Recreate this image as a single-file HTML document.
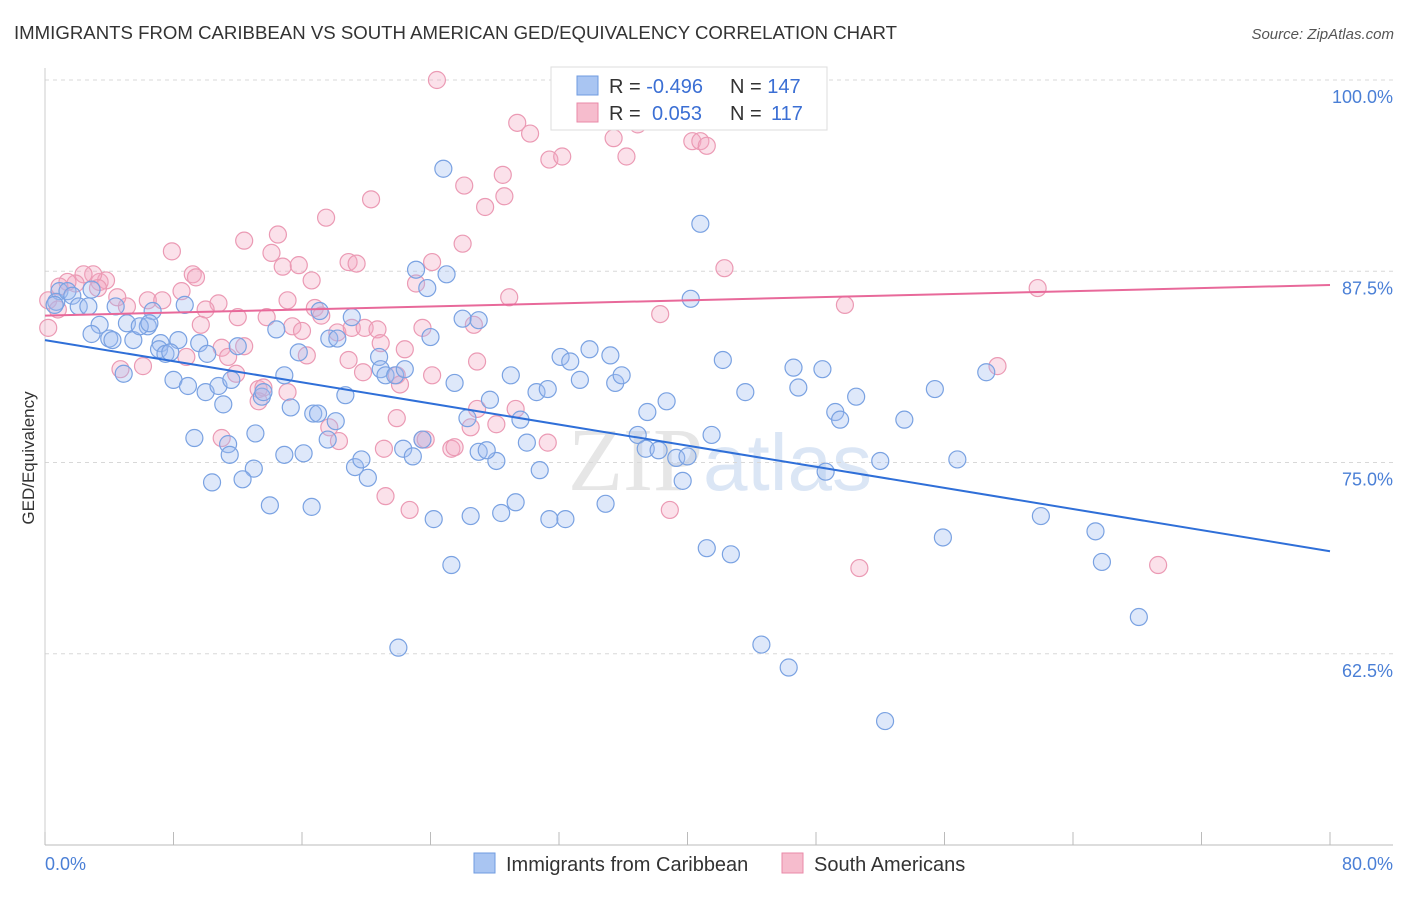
<!DOCTYPE html>
<html><head><meta charset="utf-8">
<style>
html,body{margin:0;padding:0;background:#fff;}
body{width:1406px;height:892px;overflow:hidden;font-family:"Liberation Sans",sans-serif;}
</style></head>
<body>
<svg id="chart" width="1406" height="892" xmlns="http://www.w3.org/2000/svg" font-family="Liberation Sans, sans-serif">
<text x="14" y="39" font-size="18.6" fill="#333" textLength="883" lengthAdjust="spacingAndGlyphs">IMMIGRANTS FROM CARIBBEAN VS SOUTH AMERICAN GED/EQUIVALENCY CORRELATION CHART</text>
<text x="1394" y="39" font-size="15" fill="#555" font-style="italic" text-anchor="end">Source: ZipAtlas.com</text>
<text x="720" y="490" font-size="90" fill="#e6e6e6" text-anchor="middle" font-family="Liberation Serif, serif">ZIP<tspan fill="#dbe6f5" font-family="Liberation Sans, sans-serif" font-size="80">atlas</tspan></text>
<text transform="translate(34,458) rotate(-90)" font-size="17" fill="#333" text-anchor="middle">GED/Equivalency</text>
<g id="grid"></g>
<g id="pts"></g>
<g id="trends"></g>
<g>
<rect x="551" y="67" width="276" height="63" fill="#fff" stroke="#ddd"/>
<rect x="577" y="76" width="21" height="19" fill="#a9c5f2" stroke="#6f9be0"/>
<text x="609" y="93" font-size="20" fill="#333">R = <tspan fill="#3b6fd4">-0.496</tspan><tspan x="730">N = </tspan><tspan fill="#3b6fd4">147</tspan></text>
<rect x="577" y="103" width="21" height="19" fill="#f6bccd" stroke="#e98aa8"/>
<text x="609" y="120" font-size="20" fill="#333">R = <tspan x="652" fill="#3b6fd4">0.053</tspan><tspan x="730">N = </tspan><tspan x="771" fill="#3b6fd4">117</tspan></text>
</g>
<g>
<rect x="474" y="853" width="21" height="20" fill="#a9c5f2" stroke="#6f9be0"/>
<text x="506" y="871" font-size="20" fill="#333">Immigrants from Caribbean</text>
</g>
<g>
<rect x="782" y="853" width="21" height="20" fill="#f6bccd" stroke="#e98aa8"/>
<text x="814" y="871" font-size="20" fill="#333">South Americans</text>
</g>
</svg>
<script>
const xTicks=[0,10,20,30,40,50,60,70,80];
const yTicks=[100,87.5,75,62.5];
const yTickLabels=["100.0%","87.5%","75.0%","62.5%"];
const xEndLabels=["0.0%","80.0%"];
const blueX=[24.8,40.8,23.1,25.0,23.8,40.2,26.0,27.0,24.0,14.4,17.1,19.1,17.7,18.2,8.7,6.7,6.4,5.1,3.4,2.9,4.0,5.5,7.2,8.3,7.1,7.5,9.6,12.0,10.1,4.9,8.0,8.9,10.0,10.8,11.6,11.1,13.5,13.6,14.9,15.8,15.3,16.7,17.0,18.7,20.8,20.9,21.2,21.8,22.4,25.5,29.0,27.7,26.3,29.6,30.6,31.3,32.1,32.7,33.3,33.9,35.2,35.5,35.9,37.5,38.7,36.9,37.4,38.2,39.3,40.0,39.7,41.5,42.2,43.6,46.6,46.9,48.4,49.2,49.5,50.5,53.5,55.4,58.6,48.6,52.0,56.8,62.0,65.4,65.8,68.1,55.9,41.2,42.7,44.6,46.3,52.3,22.0,25.3,24.2,26.5,28.4,29.3,31.4,32.4,34.9,30.0,30.8,28.1,27.0,27.5,22.3,22.9,23.5,20.1,19.3,19.7,18.1,17.6,16.1,14.9,13.1,13.0,12.3,11.4,10.4,9.3,11.5,14.0,16.6,2.9,0.9,0.7,1.4,1.7,2.1,2.7,4.4,0.6,5.9,6.5,7.8,4.2];
const blueY=[94.2,90.6,87.6,87.3,86.4,85.7,84.4,84.3,83.2,83.7,84.9,84.5,83.1,83.1,85.3,84.9,83.9,84.1,84.0,83.4,83.1,83.0,82.8,83.0,82.4,82.1,82.8,82.6,82.1,80.8,80.4,80.0,79.6,80.0,80.4,78.8,79.3,79.6,80.7,82.2,78.6,78.2,78.2,79.4,81.9,81.1,80.7,80.7,81.1,80.2,80.7,79.1,77.9,77.8,79.6,79.8,81.9,81.6,80.4,82.4,82.0,80.2,80.7,78.3,79.0,76.8,75.9,75.8,75.3,75.4,73.8,76.8,81.7,79.6,81.2,79.9,81.1,78.3,77.8,79.3,77.8,79.8,80.9,74.4,75.1,75.2,71.5,70.5,68.5,64.9,70.1,69.4,69.0,63.1,61.6,58.1,62.9,68.3,71.3,71.5,71.7,72.4,71.3,71.3,72.3,76.3,74.5,75.1,75.7,75.8,75.9,75.4,76.5,74.0,74.7,75.2,77.7,76.5,75.6,75.5,76.9,74.6,73.9,76.2,73.7,76.6,75.5,72.2,72.1,86.3,86.2,85.5,86.2,85.9,85.2,85.2,85.2,85.3,83.9,84.1,82.2,83.0];
const pinkX=[24.4,32.4,39.4,29.4,30.2,31.4,32.2,35.4,36.9,40.3,40.8,41.2,36.2,28.5,28.6,27.4,26.1,20.3,17.5,26.0,24.1,18.9,19.4,14.5,12.4,14.1,14.8,15.8,16.6,7.9,9.2,9.4,8.5,6.4,5.1,4.5,3.4,3.8,3.0,2.4,1.9,1.4,0.9,0.2,0.2,0.8,3.3,7.3,10.8,10.0,12.0,15.1,16.8,17.2,9.7,13.8,15.4,16.0,18.2,19.1,19.9,20.7,20.9,22.4,23.1,23.5,26.7,28.9,38.3,42.3,49.8,61.8,59.3,8.8,11.0,11.4,12.4,11.9,13.3,13.6,15.1,16.3,18.9,19.8,21.9,22.1,24.1,26.9,29.3,21.9,21.1,21.2,22.7,23.5,23.7,25.3,26.5,26.9,28.1,31.3,25.5,38.9,50.7,69.3,6.1,4.7,11.0,17.7,18.3,13.3];
const pinkY=[100.0,100.0,99.8,97.2,96.5,94.8,95.0,96.2,97.1,96.0,96.0,95.7,95.0,93.8,92.4,91.7,93.1,92.2,91.0,89.3,88.1,88.1,88.0,89.9,89.5,88.7,87.8,87.9,86.9,88.8,87.3,87.1,86.2,85.6,85.2,85.8,86.8,86.9,87.3,87.3,86.7,86.8,86.5,85.6,83.8,85.0,86.4,85.6,85.4,85.0,84.5,85.6,85.1,84.6,84.0,84.5,83.9,83.6,83.5,83.8,83.8,83.7,82.8,82.4,86.7,83.8,84.0,85.8,84.7,87.7,85.3,86.4,81.3,81.9,82.5,81.9,82.6,80.8,79.8,79.9,79.6,82.0,81.7,80.9,80.7,80.1,80.7,81.6,78.5,77.9,75.9,72.8,71.9,76.5,76.5,75.9,77.3,78.5,77.5,76.3,76.0,71.9,68.1,68.3,81.3,81.1,76.6,77.3,76.4,79.0];
const blueTrend=[83.0,69.2];
const pinkTrend=[84.6,86.6];

const NS="http://www.w3.org/2000/svg";
const X0=45,X1=1330,Y100=80,Y50=845;
function sx(v){return X0+(v-0)/(80-0)*(X1-X0);}
function sy(v){return Y100+(100-v)/(100-50)*(Y50-Y100);}
function mk(tag,attrs,parent){const e=document.createElementNS(NS,tag);for(const k in attrs)e.setAttribute(k,attrs[k]);parent.appendChild(e);return e;}
const grid=document.getElementById('grid');
yTicks.forEach((t,i)=>{
  const l=mk('line',{x1:X0,x2:1393,y1:sy(t),y2:sy(t),stroke:'#d8d8d8','stroke-dasharray':'4,4'},grid);
  
  
  const tx=mk('text',{x:1393,y:sy(t)+23,'font-size':18,fill:'#4a7fd6','text-anchor':'end'},grid);
  tx.textContent=yTickLabels[i];
  
  
});
const ax=mk('line',{x1:X0,x2:1393,y1:Y50,y2:Y50,stroke:'#bbb'},grid);


const ay=mk('line',{x1:X0,x2:X0,y1:68,y2:Y50,stroke:'#ccc'},grid);


for(let v=0;v<=80;v+=80/10){
  const t=mk('line',{x1:sx(v),x2:sx(v),y1:Y50,y2:Y50-13,stroke:'#bbb'},grid);
  
  
}
const xl0=mk('text',{x:X0,y:870,'font-size':18,fill:'#4a7fd6'},grid);xl0.textContent=xEndLabels[0];


const xl1=mk('text',{x:1393,y:870,'font-size':18,fill:'#4a7fd6','text-anchor':'end'},grid);xl1.textContent=xEndLabels[1];


const pts=document.getElementById('pts');
pinkX.forEach((x,i)=>{
  const c=mk('circle',{cx:sx(x),cy:sy(pinkY[i]),r:8.5,fill:'rgba(244,170,195,0.35)',stroke:'#eb9ab4','stroke-width':1.2},pts);
  
  
});
blueX.forEach((x,i)=>{
  const c=mk('circle',{cx:sx(x),cy:sy(blueY[i]),r:8.5,fill:'rgba(160,190,240,0.35)',stroke:'#7aa2e2','stroke-width':1.2},pts);
  
  
});
const tr=document.getElementById('trends');
const bt=mk('line',{x1:sx(0),y1:sy(blueTrend[0]),x2:sx(80),y2:sy(blueTrend[1]),stroke:'#2f6fd8','stroke-width':2},tr);


const pt=mk('line',{x1:sx(0),y1:sy(pinkTrend[0]),x2:sx(80),y2:sy(pinkTrend[1]),stroke:'#e8699a','stroke-width':2},tr);


</script>
</body></html>
